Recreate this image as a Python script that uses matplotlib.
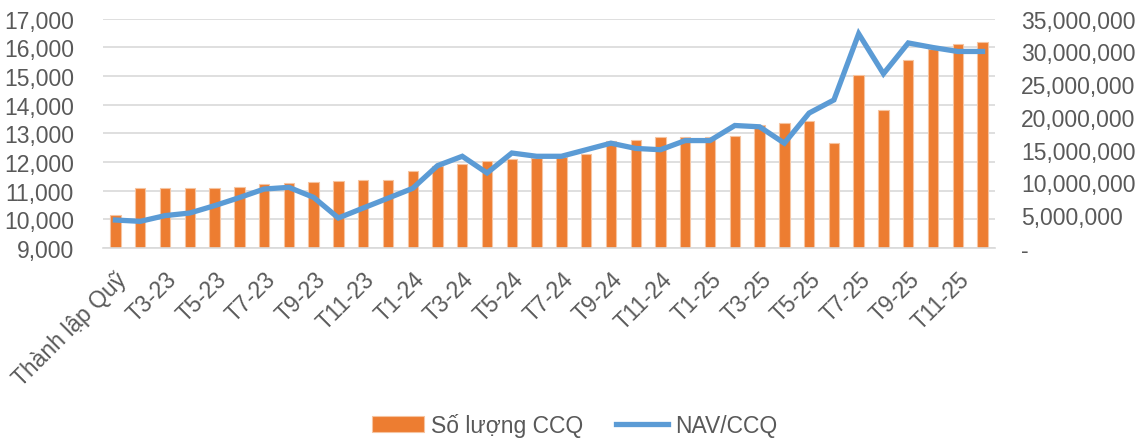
import matplotlib
matplotlib.use('Agg')
import matplotlib.pyplot as plt
from matplotlib.ticker import FuncFormatter, MultipleLocator

plt.rcParams['font.family'] = ['Liberation Sans', 'DejaVu Sans']

# nhãn trục hoành
months = ['Thành lập Quỹ',
          'T2-23', 'T3-23', 'T4-23', 'T5-23', 'T6-23', 'T7-23', 'T8-23', 'T9-23',
          'T10-23', 'T11-23', 'T12-23',
          'T1-24', 'T2-24', 'T3-24', 'T4-24', 'T5-24', 'T6-24', 'T7-24', 'T8-24',
          'T9-24', 'T10-24', 'T11-24', 'T12-24',
          'T1-25', 'T2-25', 'T3-25', 'T4-25', 'T5-25', 'T6-25', 'T7-25', 'T8-25',
          'T9-25', 'T10-25', 'T11-25', 'T12-25']

# số lượng chứng chỉ quỹ (trục trái)
so_luong_ccq = [10150, 11080, 11080, 11090, 11100, 11140, 11220, 11280, 11300,
                11340, 11360, 11380,
                11700, 11850, 11930, 12040, 12100, 12150, 12160, 12290,
                12730, 12770, 12880, 12890,
                12890, 12920, 13290, 13370, 13430, 12670, 15020, 13830,
                15560, 15950, 16110, 16170]

# NAV/CCQ (trục phải)
nav_ccq = [4270000, 4070000, 4940000, 5340000, 6460000, 7690000, 9000000, 9260000,
           7730000, 4580000, 6100000, 7600000,
           9110000, 12570000, 14000000, 11450000, 14500000, 14000000, 14000000,
           15000000, 16000000, 15200000, 15000000, 16400000,
           16400000, 18700000, 18500000, 16000000, 20600000, 22600000, 32700000,
           26600000, 31300000, 30600000, 30000000, 30000000]

fig = plt.figure(figsize=(11.41, 4.39), dpi=100)
ax1 = fig.add_axes([0.0903, 0.4328, 0.7817, 0.5223])
ax2 = ax1.twinx()

x = list(range(len(months)))
bars = ax1.bar(x, so_luong_ccq, width=0.42, color='#ED7D31',
               edgecolor='#F6C4A0', linewidth=0.8, zorder=2, label='Số lượng CCQ')
line, = ax2.plot(x, nav_ccq, color='#5B9BD5', linewidth=3.8, zorder=3,
                 solid_joinstyle='miter', label='NAV/CCQ')

ax1.set_xlim(-0.5, len(months) - 0.5)
ax1.set_ylim(9000, 17000)
ax1.yaxis.set_major_locator(MultipleLocator(1000))
ax1.yaxis.set_major_formatter(FuncFormatter(lambda v, p: f'{v:,.0f}'))
ax2.set_ylim(0, 35000000)
ax2.yaxis.set_major_locator(MultipleLocator(5000000))
ax2.yaxis.set_major_formatter(FuncFormatter(lambda v, p: '-' if v == 0 else f'{v:,.0f}'))

ax1.set_axisbelow(True)
ax1.grid(axis='y', color='#D9D9D9', linewidth=1.2, zorder=0)

ax1.set_xticks(x[::2])
ax1.set_xticklabels(months[::2], rotation=45, ha='right', rotation_mode='anchor')

text_color = '#595959'
fs = 16.5
for ax in (ax1, ax2):
    for s in ax.spines.values():
        s.set_visible(False)
    ax.tick_params(length=0, labelsize=fs, colors=text_color)
ax1.spines['bottom'].set_visible(True)
ax1.spines['bottom'].set_color('#D9D9D9')
ax1.spines['bottom'].set_linewidth(1.2)
ax1.tick_params(axis='x', pad=14)
ax1.tick_params(axis='y', pad=21)
ax2.tick_params(axis='y', pad=19)

leg = fig.legend([bars, line], ['Số lượng CCQ', 'NAV/CCQ'], loc='center',
                 bbox_to_anchor=(0.5035, 0.03), ncol=2, frameon=False,
                 fontsize=fs, handlelength=2.3, columnspacing=1.4, handletextpad=0.3)
for t in leg.get_texts():
    t.set_color(text_color)

plt.savefig('out.png', dpi=100)
